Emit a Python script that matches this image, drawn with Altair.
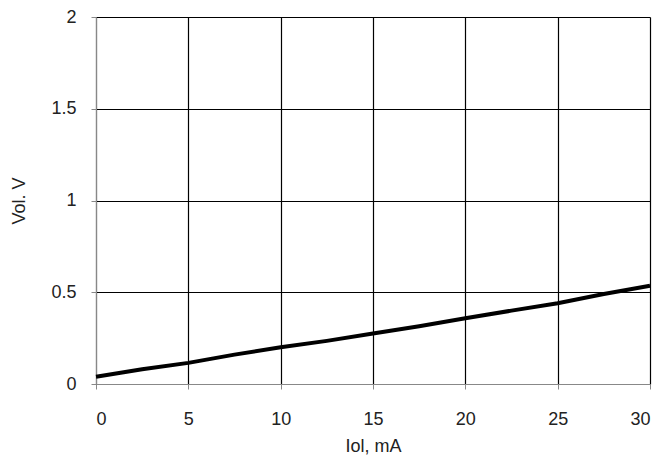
import altair as alt
import pandas as pd

iol = [0, 2.5, 5, 7.5, 10, 12.5, 15, 17.5, 20, 22.5, 25, 27.5, 30]
vol = [0.04, 0.08, 0.115, 0.16, 0.2, 0.235, 0.275, 0.315, 0.358, 0.4, 0.44, 0.49, 0.535]
x_ticks = [0, 5, 10, 15, 20, 25, 30]
y_ticks = [0, 0.5, 1, 1.5, 2]

df = pd.DataFrame({"Iol": iol, "Vol": vol})

chart = alt.Chart(df).mark_line(color="black", strokeWidth=4).encode(
    x=alt.X("Iol:Q", title="Iol, mA",
            scale=alt.Scale(domain=[0, 30], nice=False),
            axis=alt.Axis(values=x_ticks, labelPadding=21, titlePadding=9)),
    y=alt.Y("Vol:Q", title="Vol. V",
            scale=alt.Scale(domain=[0, 2], nice=False),
            axis=alt.Axis(values=y_ticks, format=".1~f", labelPadding=15, titlePadding=22)),
).properties(
    width=554, height=367,
    autosize=alt.AutoSizeParams(type="none"),
    padding={"left": 88, "top": 9, "right": 5, "bottom": 74},
).configure_view(stroke=None).configure_axis(
    grid=True, gridColor="black", gridOpacity=1, gridWidth=1.2,
    domainColor="#888888", tickColor="#888888", tickSize=5,
    labelFont="Liberation Sans", labelFontSize=18, labelColor="#222222",
    titleFont="Liberation Sans", titleFontSize=18, titleFontWeight="normal", titleColor="#222222",
)

chart.save("out.html", embed_options={"renderer": "svg", "actions": False})
